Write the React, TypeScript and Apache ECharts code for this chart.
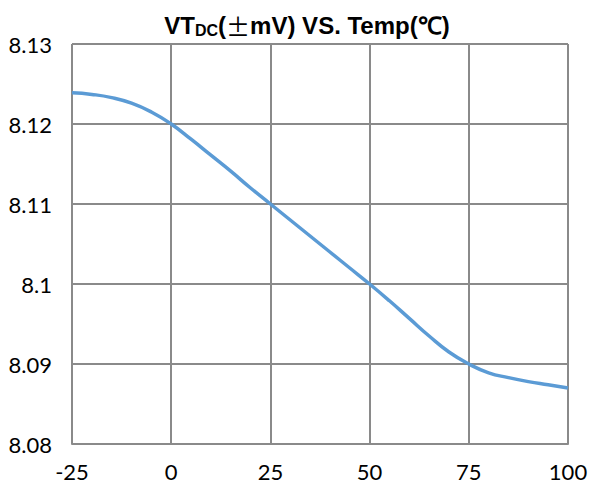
import React, { useEffect, useRef } from "react";
import * as echarts from "echarts";

const temps = [-25, -20, -15, -10, -5, 0, 5, 10, 15, 20, 25, 30, 35, 40, 45, 50, 55, 60, 65, 70, 75, 80, 85, 90, 95, 100];
const vtdc = [8.1239, 8.1237, 8.1233, 8.1226, 8.1215, 8.12, 8.1181, 8.1161, 8.1141, 8.112, 8.11, 8.108, 8.106, 8.104, 8.102, 8.1, 8.0979, 8.0957, 8.0935, 8.0915, 8.09, 8.0889, 8.0883, 8.0878, 8.0874, 8.087];
const yTicks = [8.08, 8.09, 8.1, 8.11, 8.12, 8.13];
const yTickLabels = ["8.08", "8.09", "8.1", "8.11", "8.12", "8.13"];

export default function App() {
  const ref = useRef<HTMLDivElement>(null);
  useEffect(() => {
    if (!ref.current) return;
    const chart = echarts.init(ref.current, undefined, { renderer: "svg" });
    const grid = "#8a8a8a";
    chart.setOption({
      animation: false,
      backgroundColor: "#ffffff",
      title: {
        text: "{a|VT}{b|DC}{a|(}{c|±}{a|mV) VS. Temp(℃)}",
        left: 302,
        textAlign: "center",
        top: 8,
        textStyle: {
          rich: {
            a: { fontFamily: "Liberation Sans", fontWeight: "bold", fontSize: 24, color: "#000" },
            c: { fontFamily: "Noto Sans CJK SC", fontWeight: "normal", fontSize: 24, color: "#000" },
            b: { fontFamily: "Liberation Sans", fontWeight: "bold", fontSize: 16, color: "#000", verticalAlign: "bottom", padding: [9, 0, 0, 0] },
          },
        },
      },
      grid: { left: 72, right: 25, top: 44, bottom: 53 },
      xAxis: {
        type: "value",
        min: -25,
        max: 100,
        interval: 25,
        axisLine: { show: true, lineStyle: { color: grid, width: 2 } },
        axisTick: { show: false },
        splitLine: { show: true, lineStyle: { color: grid, width: 2 } },
        axisLabel: { color: "#000", fontFamily: "Lato", fontSize: 22, margin: 16 },
      },
      yAxis: {
        type: "value",
        min: 8.08,
        max: 8.13,
        interval: 0.01,
        axisLine: { show: true, lineStyle: { color: grid, width: 2 } },
        axisTick: { show: true, length: 10, lineStyle: { color: grid, width: 2 } },
        splitLine: { show: true, lineStyle: { color: grid, width: 2 } },
        axisLabel: {
          color: "#000",
          fontFamily: "Lato",
          fontSize: 22,
          margin: 20,
          formatter: (v: number) => {
            const i = yTicks.findIndex((t) => Math.abs(t - v) < 1e-6);
            return i >= 0 ? yTickLabels[i] : "";
          },
        },
      },
      series: [
        {
          type: "line",
          data: temps.map((t, i) => [t, vtdc[i]]),
          smooth: 0.5,
          showSymbol: false,
          lineStyle: { color: "#5b9bd5", width: 3.5 },
        },
      ],
    });
    return () => chart.dispose();
  }, []);
  return <div ref={ref} style={{ width: 593, height: 497, position: "absolute", left: 0, top: 0 }} />;
}
